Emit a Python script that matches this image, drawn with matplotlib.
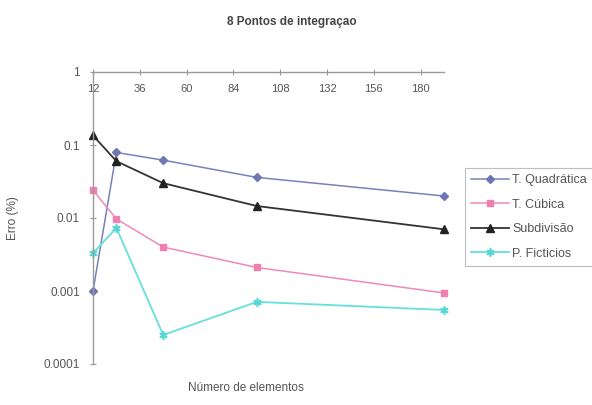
import matplotlib
matplotlib.use("Agg")
import matplotlib.pyplot as plt

plt.rcParams['font.family'] = ['Liberation Sans', 'DejaVu Sans']

# Number of elements and relative error (%) for each method
elementos = [12, 24, 48, 96, 192]
t_quadratica = [0.001, 0.079, 0.062, 0.036, 0.020]
t_cubica = [0.024, 0.0097, 0.0040, 0.0021, 0.00094]
subdivisao = [0.135, 0.060, 0.030, 0.0146, 0.0070]
p_ficticios = [0.0033, 0.0073, 0.00025, 0.00071, 0.00055]

x_ticks = [12, 36, 60, 84, 108, 132, 156, 180]
y_ticks = [1, 0.1, 0.01, 0.001, 0.0001]
y_tick_labels = ["1", "0.1", "0.01", "0.001", "0.0001"]

W, H = 592, 405
fig = plt.figure(figsize=(W / 100, H / 100), dpi=100)
fig.patch.set_facecolor("white")

# plot area in pixels: x 93..444, y 72..364
ax = fig.add_axes([93 / W, 1 - 364 / H, (444 - 93) / W, (364 - 72) / H])
ax.set_yscale("log")
ax.set_ylim(0.0001, 1)
ax.set_xlim(12, 192)

axis_col = "#9a9a9a"
text_col = "#555555"

ax.plot(elementos, t_quadratica, color="#7a80bd", lw=1.1, marker="D",
        ms=4.5, mfc="#6f76b4", mec="#6f76b4", label="T. Quadrática",
        clip_on=False)
ax.plot(elementos, t_cubica, color="#ef8ab8", lw=1.1, marker="s",
        ms=5, mfc="#f07fb2", mec="#f07fb2", label="T. Cúbica",
        clip_on=False)
ax.plot(elementos, subdivisao, color="#333333", lw=1.3, marker="^",
        ms=6, mfc="#222222", mec="#222222", label="Subdivisão",
        clip_on=False)
ax.plot(elementos, p_ficticios, color="#66e0dc", lw=1.3, marker=(6, 2, 0),
        ms=6, mec="#55d8d4", mew=1.2, label="P. Ficticios",
        clip_on=False)

for side in ["right", "bottom"]:
    ax.spines[side].set_visible(False)
for side in ["left", "top"]:
    ax.spines[side].set_color(axis_col)
    ax.spines[side].set_linewidth(1.0)

ax.set_yticks(y_ticks)
ax.set_yticklabels(y_tick_labels)
ax.minorticks_off()
ax.tick_params(axis="y", which="both", direction="inout", length=5,
               color=axis_col, labelcolor=text_col, labelsize=8.5, pad=7)

ax.set_xticks(x_ticks)
ax.xaxis.set_ticks_position("top")
ax.tick_params(axis="x", which="both", top=True, bottom=False,
               labeltop=True, labelbottom=False, direction="inout",
               length=4, color=axis_col, labelcolor=text_col,
               labelsize=8, pad=-18)

fig.text(292 / W, 1 - 22 / H, "8 Pontos de integraçao", ha="center",
         va="center", fontsize=8.5, fontweight="bold", color="#444444")
fig.text(246 / W, 1 - 388 / H, "Número de elementos", ha="center",
         va="center", fontsize=8.5, color=text_col)
fig.text(13 / W, 1 - 218 / H, "Erro (%)", ha="center", va="center",
         rotation=90, fontsize=8.5, color=text_col)

leg = fig.legend(loc="upper left", bbox_to_anchor=(465 / W, 1 - 168 / H),
                 fontsize=9, frameon=True, fancybox=False,
                 handlelength=3.0, handletextpad=0.3, labelspacing=1.0,
                 borderpad=0.5, borderaxespad=0)
leg.get_frame().set_edgecolor("#b0b0b0")
leg.get_frame().set_linewidth(0.8)
for t in leg.get_texts():
    t.set_color(text_col)

fig.savefig("out.png", dpi=100, facecolor="white")
